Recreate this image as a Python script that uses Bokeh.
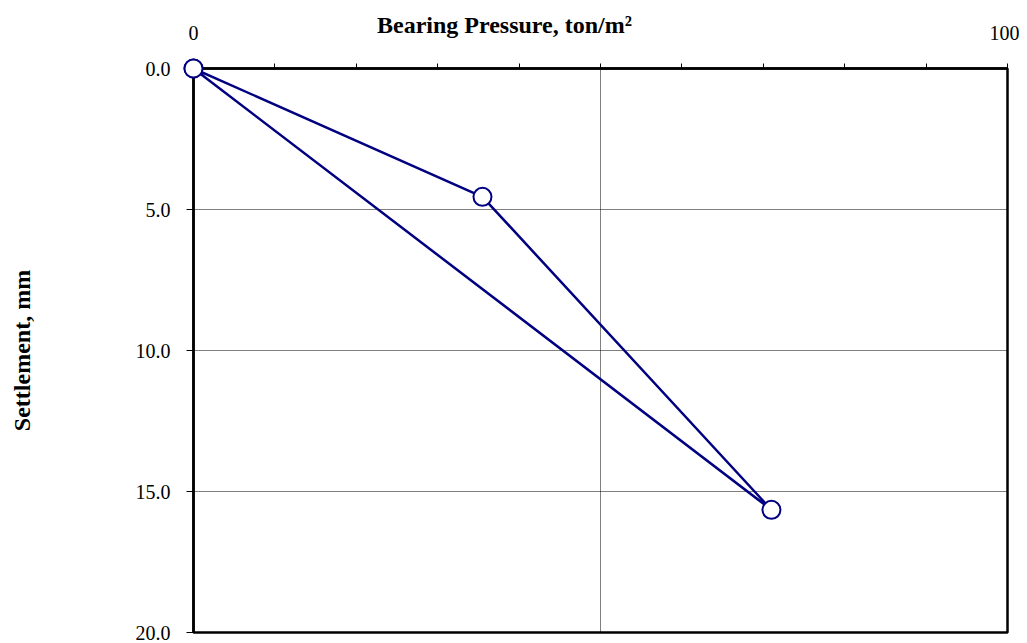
from bokeh.plotting import figure
from bokeh.models import Range1d, FixedTicker, PrintfTickFormatter, ColumnDataSource
from bokeh.core.properties import value
from bokeh.embed import file_html
from bokeh.resources import INLINE

pressure = [0, 35.5, 71.0, 0]
settlement = [0, 4.55, 15.65, 0]
x_tick_labels = [0, 100]
x_minor = [10, 20, 30, 40, 50, 60, 70, 80, 90]
y_ticks = [0, 5, 10, 15, 20]
x_title = "Bearing Pressure, ton/m²"
y_title = "Settlement, mm"

FONT = "Liberation Serif"
NAVY = "#000080"

p = figure(width=1019, height=643, output_backend="svg", toolbar_location=None,
           x_axis_location="above",
           x_range=Range1d(0, 100), y_range=Range1d(20, 0),
           min_border_left=193, min_border_top=68, min_border_right=12, min_border_bottom=11)

p.outline_line_color = "black"
p.outline_line_width = 2.5

# x axis (top)
xa = p.xaxis[0]
xa.ticker = FixedTicker(ticks=x_tick_labels, minor_ticks=x_minor)
xa.major_label_text_font = FONT
xa.major_label_text_font_size = "20px"
xa.major_label_text_color = "black"
xa.major_tick_out = 5
xa.major_tick_in = 0
xa.minor_tick_out = 5
xa.minor_tick_in = 0
xa.major_label_standoff = 24
xa.axis_line_width = 2.5
xa.major_tick_line_width = 1
xa.minor_tick_line_width = 1

# y axis (left)
ya = p.yaxis[0]
ya.ticker = FixedTicker(ticks=y_ticks)
ya.formatter = PrintfTickFormatter(format="%.1f")
ya.major_label_text_font = FONT
ya.major_label_text_font_size = "20px"
ya.major_label_text_color = "black"
ya.major_tick_out = 7
ya.major_tick_in = 0
ya.minor_tick_line_color = None
ya.major_label_standoff = 16
ya.axis_line_width = 2.5
ya.axis_label = y_title
ya.axis_label_text_font = FONT
ya.axis_label_text_font_style = "bold"
ya.axis_label_text_font_size = "24px"
ya.axis_label_text_color = "black"
ya.axis_label_standoff = 98

# grids
p.xgrid.ticker = FixedTicker(ticks=[50])
p.ygrid.ticker = FixedTicker(ticks=[5, 10, 15])
for g in (p.xgrid, p.ygrid):
    g.grid_line_color = "black"
    g.grid_line_dash = "1 1"
    g.grid_line_width = 1

src = ColumnDataSource(data=dict(x=pressure, y=settlement))
p.line("x", "y", source=src, line_color=NAVY, line_width=2.5)
p.scatter("x", "y", source=src, size=18, fill_color="white", line_color=NAVY,
          line_width=2, level="overlay")

p.text(x=[38.2], y=[-1.53], text=[x_title], level="overlay",
       text_font=value(FONT), text_font_style="bold", text_font_size="24px",
       text_align="center", text_baseline="alphabetic", text_color="black")

open("out.html", "w").write(file_html(p, INLINE))
